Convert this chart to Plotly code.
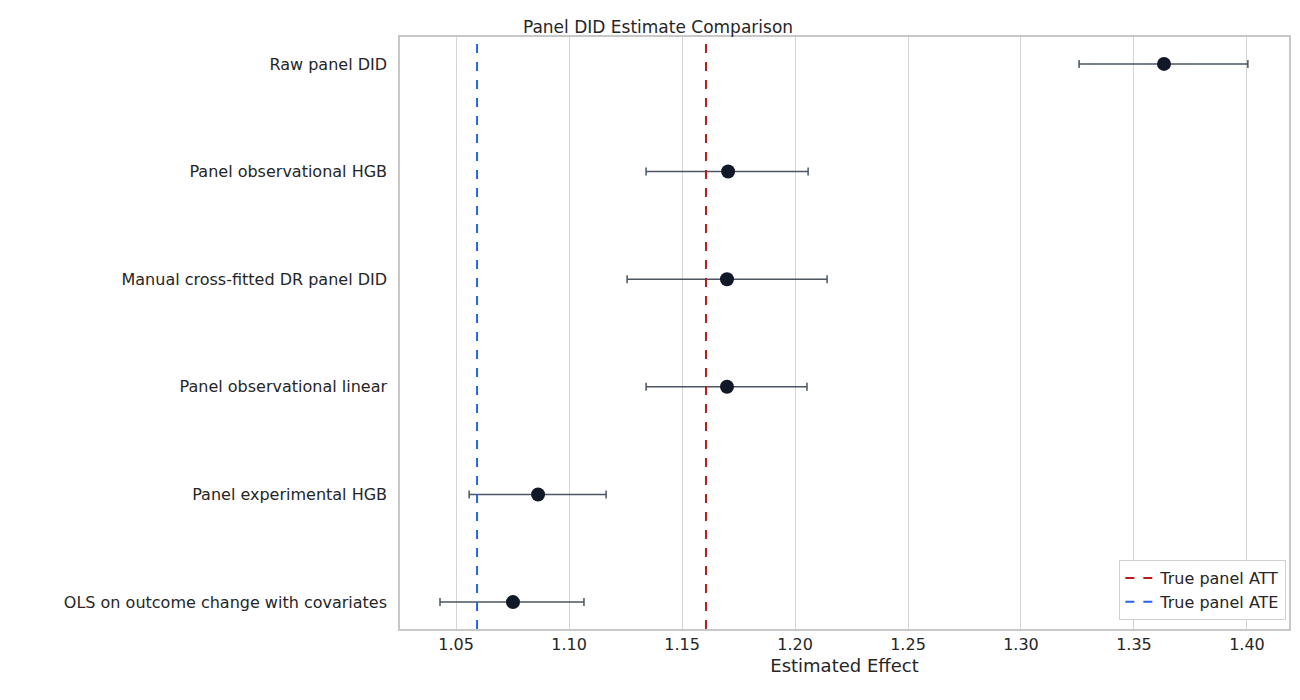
import plotly.graph_objects as go

methods = ["Raw panel DID", "Panel observational HGB", "Manual cross-fitted DR panel DID",
           "Panel observational linear", "Panel experimental HGB", "OLS on outcome change with covariates"]
estimates = [1.3633, 1.1704, 1.1699, 1.1699, 1.0863, 1.0752]
ci_low = [1.3257, 1.1341, 1.1257, 1.1341, 1.0558, 1.0429]
ci_high = [1.4004, 1.2058, 1.2142, 1.2053, 1.1164, 1.1066]
true_att = 1.1606
true_ate = 1.0593

fig = go.Figure()
fig.add_trace(go.Scatter(
    x=estimates, y=methods, mode="markers",
    marker=dict(size=14, color="#111827"),
    error_x=dict(type="data", symmetric=False,
                 array=[h - e for h, e in zip(ci_high, estimates)],
                 arrayminus=[e - l for e, l in zip(estimates, ci_low)],
                 color="#4b5563", thickness=1.5, width=4),
    showlegend=False))

for val, col, name in [(true_att, "#b91c1c", "True panel ATT"), (true_ate, "#2563eb", "True panel ATE")]:
    fig.add_trace(go.Scatter(x=[val, val], y=[-0.25, 5.25], mode="lines", yaxis="y2",
                             line=dict(color=col, width=2, dash="dash"), name=name))

fig.update_layout(
    width=1300, height=700,
    margin=dict(l=392, r=19, t=29, b=79),
    plot_bgcolor="white", paper_bgcolor="white",
    font=dict(family="DejaVu Sans", size=16, color="#262626"),
    title=dict(text="Panel DID Estimate Comparison", x=0.5, xanchor="center", y=0.982, font=dict(size=17)),
    xaxis=dict(range=[1.0252, 1.4186], tickvals=[1.05 + 0.05 * i for i in range(8)],
               tickformat=".2f", showgrid=True, gridcolor="#d4d4d4", gridwidth=1.2,
               showline=True, linecolor="#c8c8c8", linewidth=1.5, mirror=True, zeroline=False,
               title=dict(text="Estimated Effect", font=dict(size=18), standoff=6)),
    yaxis=dict(categoryorder="array", categoryarray=methods, range=[5.25, -0.25],
               showgrid=False, showline=True, linecolor="#c8c8c8", linewidth=1.5, mirror=True,
               ticks="", ticklabelstandoff=8),
    yaxis2=dict(overlaying="y", range=[-0.25, 5.25], visible=False),
    legend=dict(x=0.997, y=0.015, xanchor="right", yanchor="bottom", bordercolor="#d0d0d0",
                borderwidth=1, bgcolor="white", font=dict(size=16)),
)
fig.write_html("out.html")
